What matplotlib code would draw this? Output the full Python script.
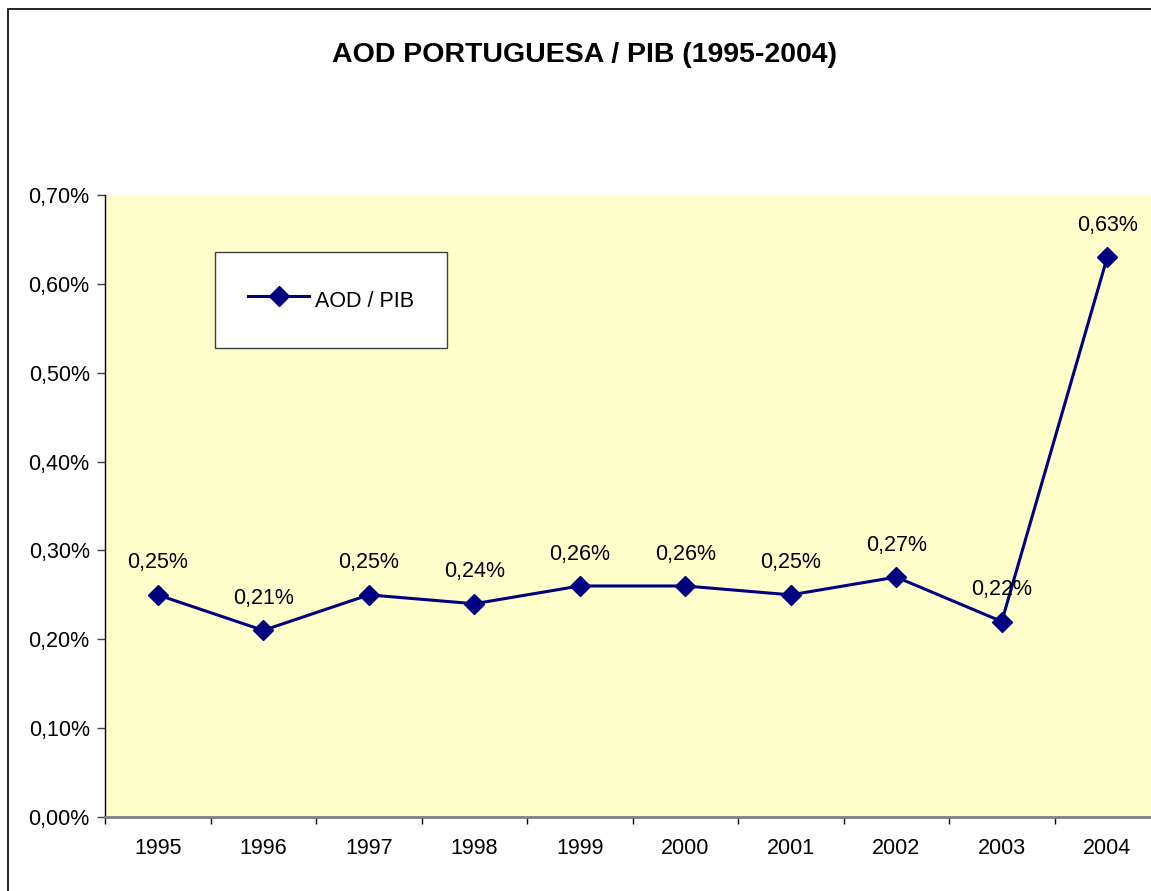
import matplotlib
matplotlib.use("Agg")
import matplotlib.pyplot as plt
from matplotlib.patches import Rectangle

years = ['1995', '1996', '1997', '1998', '1999', '2000', '2001', '2002', '2003', '2004']
aod_pib = [0.25, 0.21, 0.25, 0.24, 0.26, 0.26, 0.25, 0.27, 0.22, 0.63]
point_labels = ['0,25%', '0,21%', '0,25%', '0,24%', '0,26%', '0,26%', '0,25%', '0,27%', '0,22%', '0,63%']
y_ticks = [0.0, 0.1, 0.2, 0.3, 0.4, 0.5, 0.6, 0.7]
y_tick_labels = ['0,00%', '0,10%', '0,20%', '0,30%', '0,40%', '0,50%', '0,60%', '0,70%']

plt.rcParams['font.family'] = ['Liberation Sans', 'DejaVu Sans']
fs = 15.5

fig = plt.figure(figsize=(11.51, 8.91), dpi=100)

# outer chart border (runs off right and bottom edges like the original)
fig.patches.append(Rectangle((8 / 1151, -0.05), 1.2, 1 - 9 / 891 + 0.05,
                             transform=fig.transFigure, fill=False,
                             edgecolor='black', linewidth=1.2, zorder=0))

ax = fig.add_axes([105 / 1151, 74 / 891, 1055 / 1151, 622 / 891])
ax.set_facecolor('#FFFFCC')

x = list(range(len(years)))
ax.plot(x, aod_pib, color='#000080', linewidth=2.2, marker='D',
        markersize=10.5, label='AOD / PIB', clip_on=False, zorder=3)

for xi, yi, lab in zip(x, aod_pib, point_labels):
    ax.annotate(lab, (xi, yi), xytext=(0, 23), textcoords='offset points',
                ha='center', va='center', fontsize=fs, color='black')

ax.set_xlim(-0.5, len(years) - 0.5)
ax.set_ylim(0, 0.7)

ax.set_yticks(y_ticks)
ax.set_yticklabels(y_tick_labels, fontsize=fs)
ax.set_xticks(x)
ax.set_xticklabels(years, fontsize=fs)
ax.set_xticks([i - 0.5 for i in range(len(years) + 1)], minor=True)
ax.tick_params(axis='x', which='major', length=0, pad=15)
ax.tick_params(axis='x', which='minor', length=5, width=1, color='black', direction='out')
ax.tick_params(axis='y', length=6, width=1, color='#404040', pad=5)

for s in ['top', 'right']:
    ax.spines[s].set_visible(False)
ax.spines['left'].set_color('black')
ax.spines['left'].set_linewidth(1.0)
ax.spines['bottom'].set_color('#808080')
ax.spines['bottom'].set_linewidth(2.0)

leg = ax.legend(loc='upper left', bbox_to_anchor=(110 / 1055, 1 - 57 / 622),
                fontsize=fs, frameon=True, fancybox=False, borderpad=1.55,
                handlelength=2.8, handleheight=1.75, handletextpad=0.3,
                borderaxespad=0)
leg.get_frame().set_edgecolor('#404040')
leg.get_frame().set_linewidth(1.0)
leg.get_frame().set_facecolor('white')
leg.get_frame().set_alpha(1)

fig.text(585 / 1151, 1 - 55 / 891, 'AOD PORTUGUESA / PIB (1995-2004)',
         ha='center', va='center', fontsize=20.5, fontweight='bold')

fig.savefig('out.png', dpi=100, facecolor='white')
